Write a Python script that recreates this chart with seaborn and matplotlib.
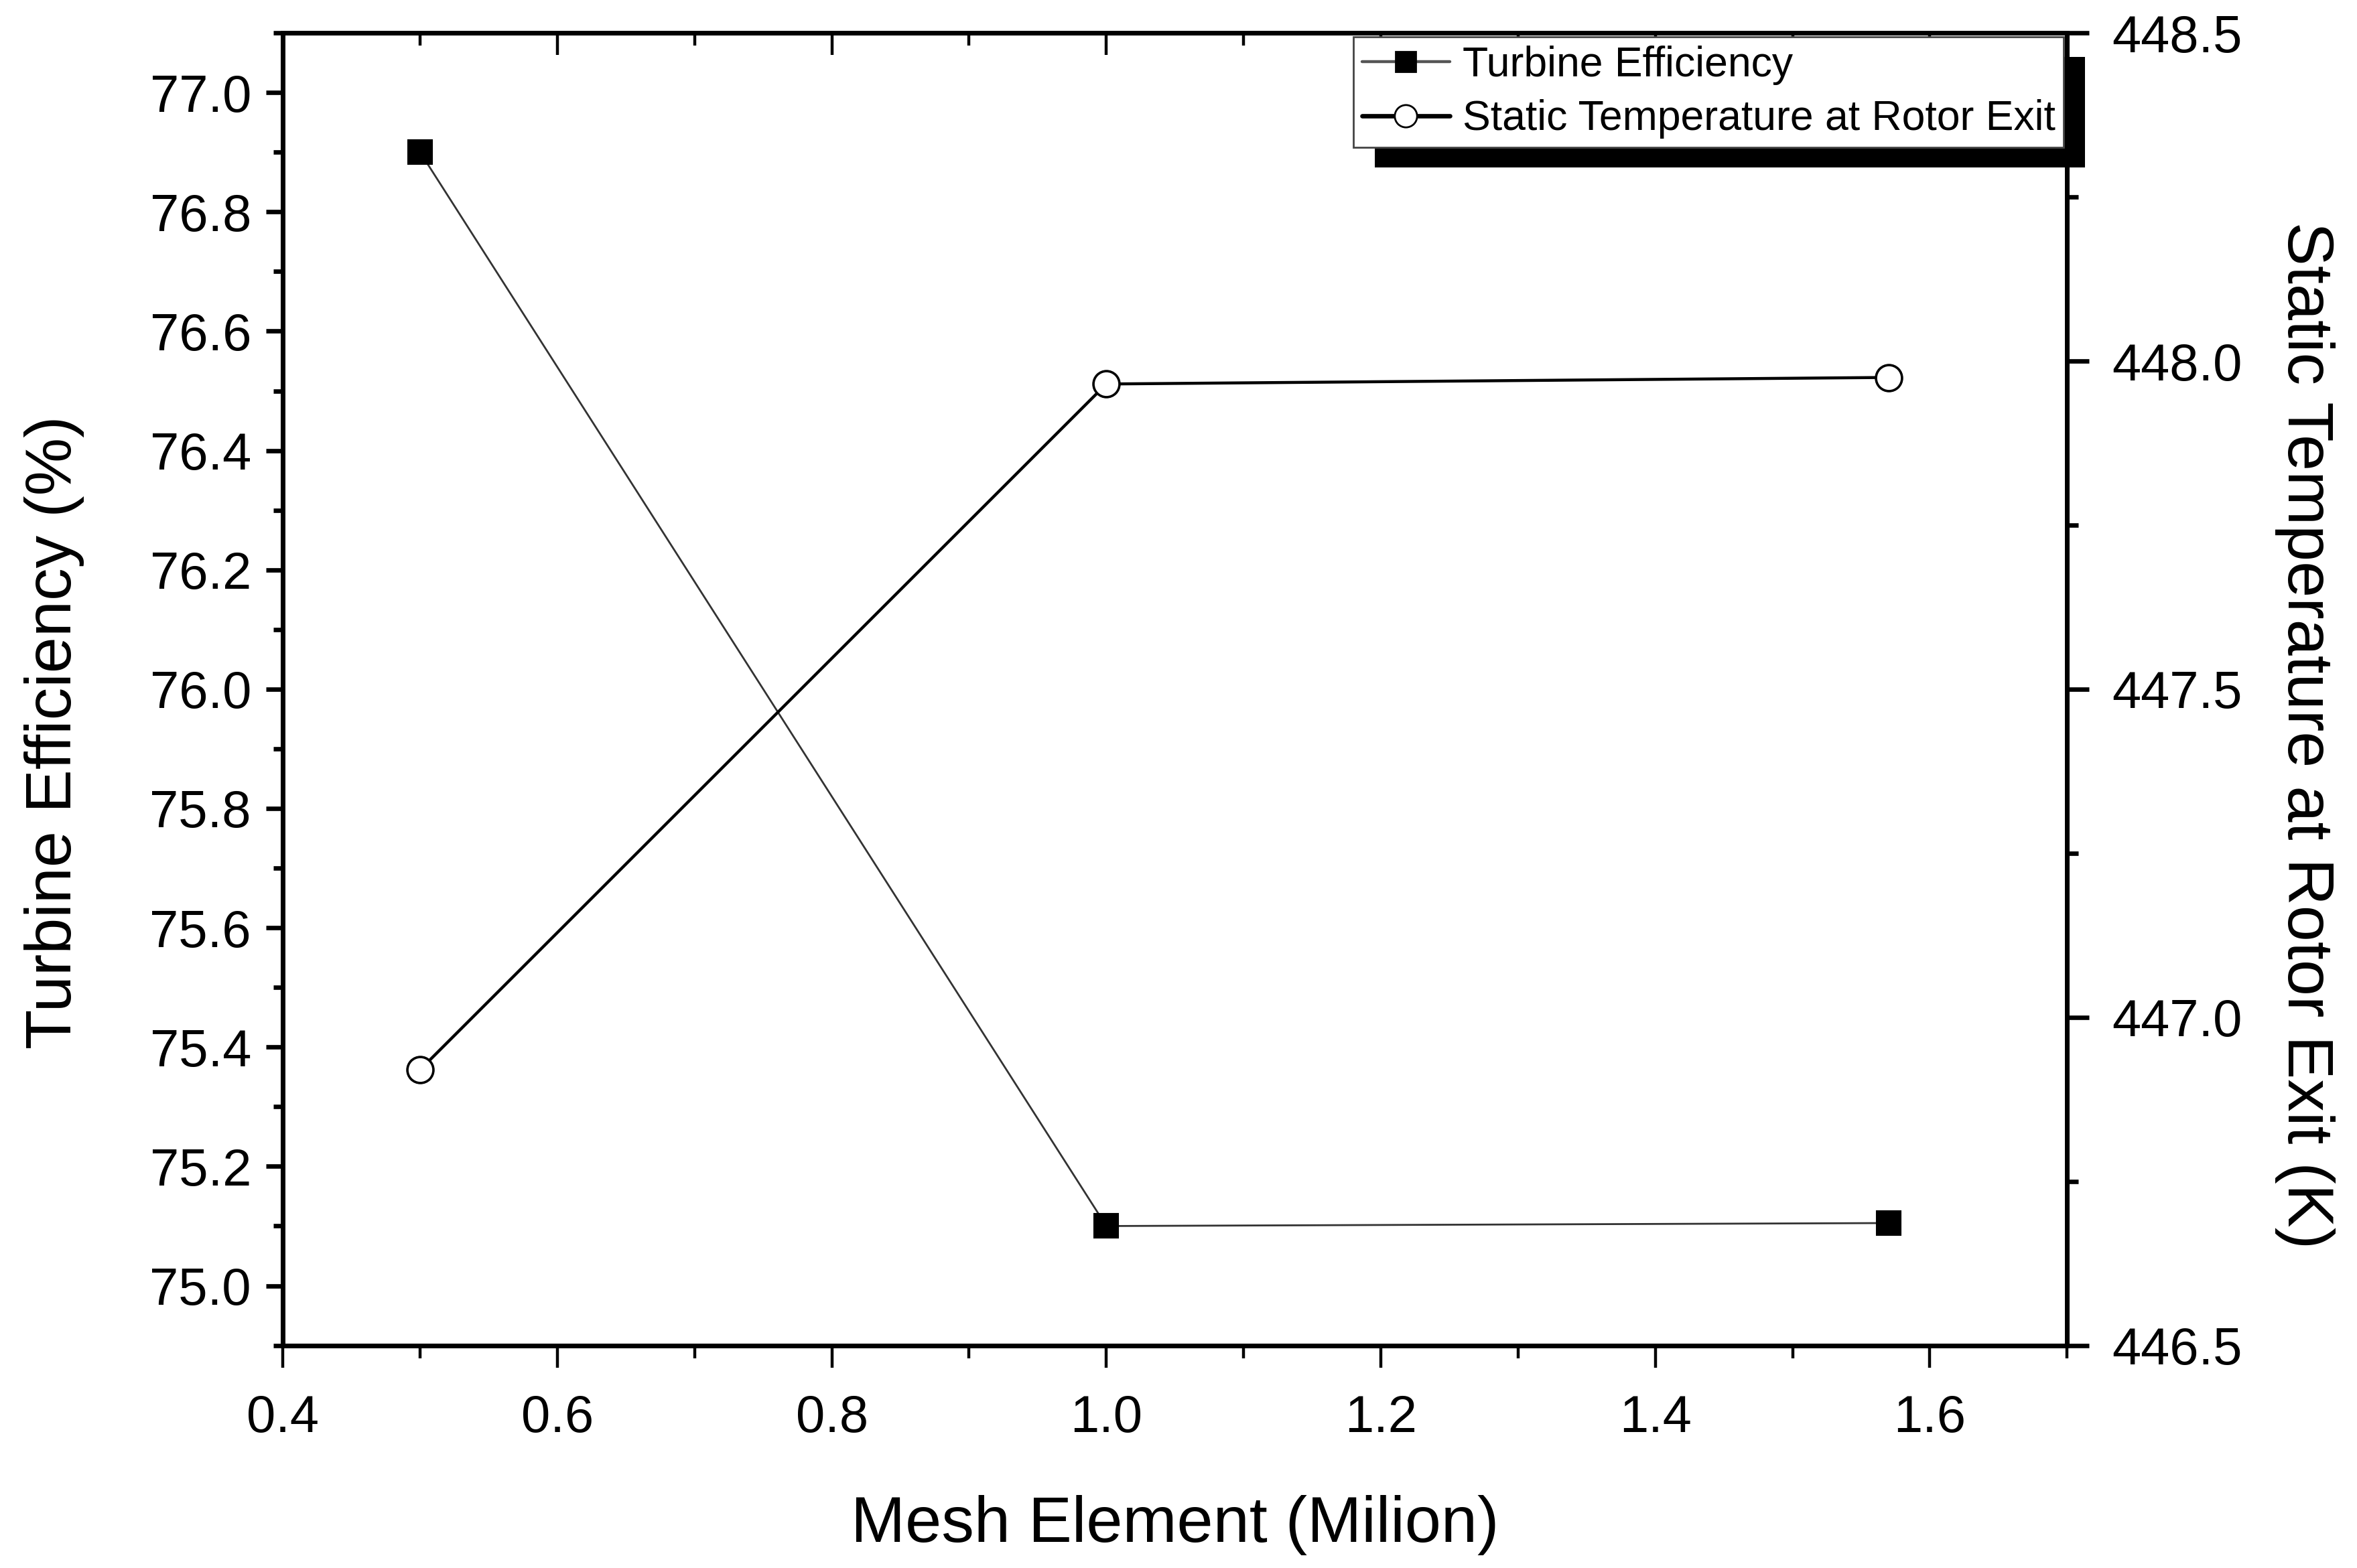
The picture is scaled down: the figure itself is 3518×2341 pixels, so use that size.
import numpy as np
import pandas as pd
import seaborn as sns
import matplotlib.pyplot as plt
from matplotlib.ticker import MultipleLocator
from matplotlib.patches import Rectangle
from matplotlib.lines import Line2D
from matplotlib.transforms import IdentityTransform

# data
mesh = [0.5, 1.0, 1.57]
efficiency = [76.9, 75.1, 75.105]
temperature = [446.92, 447.965, 447.975]

df = pd.DataFrame({"mesh": mesh, "eff": efficiency, "temp": temperature})

sns.set_theme(style="ticks")
plt.rcParams['font.family'] = ['Liberation Sans', 'DejaVu Sans']
plt.rcParams['text.color'] = 'black'
plt.rcParams['axes.labelcolor'] = 'black'

fig, ax = plt.subplots(figsize=(17.59, 11.705), dpi=200)
fig.subplots_adjust(left=0.120, right=0.877, top=0.979, bottom=0.142)
ax2 = ax.twinx()

sns.lineplot(data=df, x="mesh", y="eff", ax=ax, color="#333333", lw=1.0,
             marker="s", markersize=13, markerfacecolor="black",
             markeredgecolor="black")
sns.lineplot(data=df, x="mesh", y="temp", ax=ax2, color="black", lw=1.6,
             marker="o", markersize=14, markerfacecolor="white",
             markeredgecolor="black", markeredgewidth=1.3)

ax.set_xlim(0.4, 1.7)
ax.set_ylim(74.9, 77.1)
ax2.set_ylim(446.5, 448.5)

ax.xaxis.set_major_locator(MultipleLocator(0.2))
ax.xaxis.set_minor_locator(MultipleLocator(0.1))
ax.yaxis.set_major_locator(MultipleLocator(0.2))
ax.yaxis.set_minor_locator(MultipleLocator(0.1))
ax2.yaxis.set_major_locator(MultipleLocator(0.5))
ax2.yaxis.set_minor_locator(MultipleLocator(0.25))

ax.set_xlabel("Mesh Element (Milion)", fontsize=35, labelpad=28)
ax.set_ylabel("Turbine Efficiency (%)", fontsize=35, labelpad=35)
ax2.set_xlabel("")
ax2.set_ylabel("Static Temperature at Rotor Exit (K)", fontsize=35,
               rotation=270, labelpad=50)
# both y labels sit a little below the middle in the original
ax.yaxis.label.set_y(0.467)
ax2.yaxis.label.set_y(0.465)

for a in (ax, ax2):
    for s in a.spines.values():
        s.set_linewidth(2.5)
        s.set_color("black")

ax.tick_params(axis="x", which="both", bottom=True, top=False, direction="out",
               labelsize=28, width=1.6, pad=14, colors="black")
ax.tick_params(axis="x", which="major", length=12)
ax.tick_params(axis="x", which="minor", length=7)
ax.tick_params(axis="y", which="both", left=True, right=False, direction="out",
               labelsize=28, width=2.4, pad=8, colors="black")
ax.tick_params(axis="y", which="major", length=9)
ax.tick_params(axis="y", which="minor", length=5)

# top ticks pointing inwards through the twin axes
ax2.xaxis.set_visible(True)
ax2.tick_params(axis="x", which="both", bottom=False, top=True, labelbottom=False,
                labeltop=False, direction="in", width=1.6, colors="black")
ax2.tick_params(axis="x", which="major", length=12)
ax2.tick_params(axis="x", which="minor", length=7)
ax2.tick_params(axis="y", which="both", right=True, left=False, direction="out",
                labelsize=28, width=2.4, pad=12, colors="black")
ax2.tick_params(axis="y", which="major", length=12)
ax2.tick_params(axis="y", which="minor", length=6)

handles = [
    Line2D([], [], color="#555555", lw=1.6, marker="s", markersize=11,
           markerfacecolor="black", markeredgecolor="black"),
    Line2D([], [], color="black", lw=2.4, marker="o", markersize=12,
           markerfacecolor="white", markeredgecolor="black", markeredgewidth=1.0),
]
leg = ax2.legend(handles, ["Turbine Efficiency", "Static Temperature at Rotor Exit"],
                 loc="upper right", bbox_to_anchor=(0.998, 0.997), borderaxespad=0,
                 fontsize=22.5, frameon=True, fancybox=False, framealpha=1,
                 edgecolor="#444444", handlelength=2.1, handletextpad=0.3,
                 borderpad=0.2, labelspacing=0.35)
leg.get_frame().set_linewidth(1.0)
leg.set_zorder(10)

fig.canvas.draw()
bb = leg.get_window_extent()
shadow = Rectangle((bb.x0 + 32, bb.y0 - 30), bb.width, bb.height,
                   transform=IdentityTransform(), facecolor="black",
                   edgecolor="none", zorder=9, clip_on=False)
ax2.add_artist(shadow)

fig.savefig("out.png", dpi=200, facecolor="white")
